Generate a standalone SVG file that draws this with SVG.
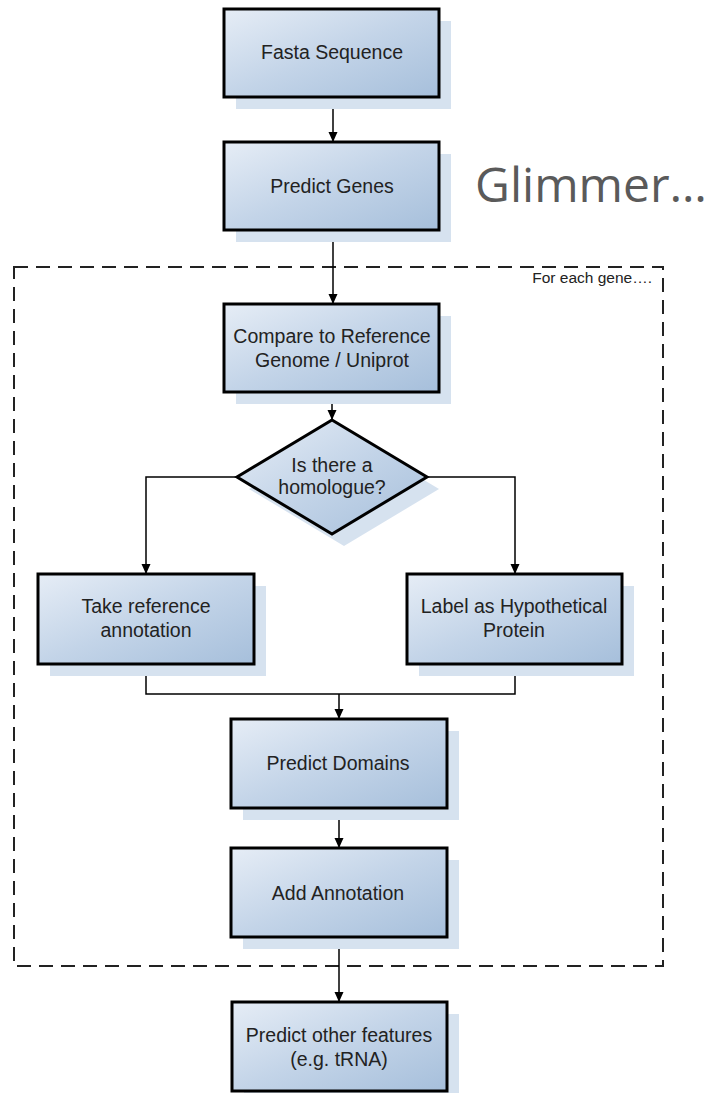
<svg xmlns="http://www.w3.org/2000/svg" width="707" height="1093" viewBox="0 0 707 1093">
<defs>
<linearGradient id="g" x1="0" y1="0" x2="1" y2="1">
<stop offset="0" stop-color="#e6edf6"/>
<stop offset="0.5" stop-color="#c3d4e8"/>
<stop offset="1" stop-color="#a6bfdb"/>
</linearGradient>
<marker id="ah" viewBox="0 0 10 10" refX="10" refY="5" markerWidth="10" markerHeight="10" markerUnits="userSpaceOnUse" orient="auto">
<path d="M0,0.5 L10,5 L0,9.5 Z" fill="#000"/>
</marker>
<style>
.box{fill:url(#g);stroke:#000;stroke-width:3}
.sh{fill:#d6e2ef}
.t{font-family:"Liberation Sans",Arial,sans-serif;font-size:19.5px;fill:#222;text-anchor:middle}
.c{fill:none;stroke:#000;stroke-width:1.5}
</style>
</defs>
<rect width="707" height="1093" fill="#fff"/>
<g id="loop">
<rect x="14" y="267" width="649" height="699" fill="none" stroke="#222" stroke-width="2" stroke-dasharray="14,8"/>
<text x="652" y="283" text-anchor="end" font-family="Liberation Sans,Arial,sans-serif" font-size="15.5" fill="#222">For each gene….</text>
</g>
<g id="glimmer">
<text x="475" y="202" font-family="Open Sans,sans-serif" font-size="48" fill="#5a5a5a">Glimmer…</text>
</g>
<g id="connectors">
<path class="c" d="M333,97 V142" marker-end="url(#ah)"/>
<path class="c" d="M333,230 V304" marker-end="url(#ah)"/>
<path class="c" d="M332,392 V420" marker-end="url(#ah)"/>
<path class="c" d="M237,477 H146 V574" marker-end="url(#ah)"/>
<path class="c" d="M427,477 H515 V574" marker-end="url(#ah)"/>
<path class="c" d="M146,664 V694 H515 V664"/>
<path class="c" d="M339,694 V719" marker-end="url(#ah)"/>
<path class="c" d="M339,808 V848" marker-end="url(#ah)"/>
<path class="c" d="M339,937 V1002" marker-end="url(#ah)"/>
</g>
<g id="fasta">
<rect class="sh" x="236" y="21" width="215" height="88"/>
<rect class="box" x="224" y="9" width="215" height="88"/>
<text class="t" x="332" y="59">Fasta Sequence</text>
</g>
<g id="predict-genes">
<rect class="sh" x="236" y="154" width="215" height="88"/>
<rect class="box" x="224" y="142" width="215" height="88"/>
<text class="t" x="332" y="193">Predict Genes</text>
</g>
<g id="compare">
<rect class="sh" x="236" y="316" width="215" height="88"/>
<rect class="box" x="224" y="304" width="215" height="88"/>
<text class="t" x="332" y="343">Compare to Reference</text>
<text class="t" x="332" y="367">Genome / Uniprot</text>
</g>
<g id="homologue">
<polygon class="sh" points="344,432 439,489 344,546 249,489"/>
<polygon class="box" points="332,420 427,477 332,534 237,477"/>
<text class="t" x="332" y="472">Is there a</text>
<text class="t" x="332" y="494">homologue?</text>
</g>
<g id="take-ref">
<rect class="sh" x="50" y="586" width="216" height="90"/>
<rect class="box" x="38" y="574" width="216" height="90"/>
<text class="t" x="146" y="613">Take reference</text>
<text class="t" x="146" y="637">annotation</text>
</g>
<g id="hypothetical">
<rect class="sh" x="419" y="586" width="215" height="90"/>
<rect class="box" x="407" y="574" width="215" height="90"/>
<text class="t" x="514" y="613">Label as Hypothetical</text>
<text class="t" x="514" y="637">Protein</text>
</g>
<g id="domains">
<rect class="sh" x="243" y="731" width="216" height="89"/>
<rect class="box" x="231" y="719" width="216" height="89"/>
<text class="t" x="338" y="770">Predict Domains</text>
</g>
<g id="add-annotation">
<rect class="sh" x="243" y="860" width="216" height="89"/>
<rect class="box" x="231" y="848" width="216" height="89"/>
<text class="t" x="338" y="900">Add Annotation</text>
</g>
<g id="other-features">
<rect class="sh" x="244" y="1014" width="215" height="89"/>
<rect class="box" x="232" y="1002" width="215" height="89"/>
<text class="t" x="339" y="1042">Predict other features</text>
<text class="t" x="339" y="1066">(e.g. tRNA)</text>
</g>
</svg>
